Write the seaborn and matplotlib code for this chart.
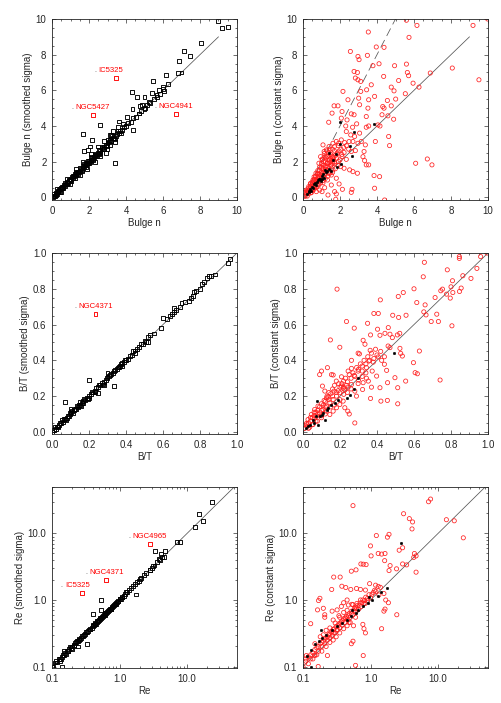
import numpy as np
import seaborn as sns
import matplotlib
matplotlib.use('Agg')
import matplotlib.pyplot as plt
from matplotlib.ticker import MultipleLocator, LogLocator, FixedFormatter, FixedLocator

# Bulge n: porownanie (x, y) -- smoothed sigma
bulge_smooth = [
    (0.05, 0.0), (0.1, 0.1), (0.15, 0.1), (0.2, 0.25), (0.25, 0.2), (0.3, 0.3), (0.35, 0.4), (0.4, 0.35),
    (0.45, 0.45), (0.5, 0.55), (0.55, 0.5), (0.6, 0.6), (0.65, 0.7), (0.7, 0.65), (0.75, 0.75), (0.8, 0.85),
    (0.85, 0.8), (0.9, 0.9), (0.95, 1.0), (1.0, 0.95), (1.05, 1.05), (1.1, 1.15), (1.15, 1.1), (1.2, 1.2),
    (1.25, 1.3), (1.3, 1.25), (1.35, 1.35), (1.4, 1.45), (1.45, 1.4), (1.5, 1.5), (1.55, 1.6), (1.6, 1.55),
    (1.65, 1.65), (1.7, 1.75), (1.75, 1.7), (1.8, 1.8), (1.85, 1.9), (1.9, 1.85), (1.95, 1.95), (2.0, 2.05),
    (2.05, 2.0), (2.1, 2.1), (2.15, 2.2), (2.2, 2.15), (2.25, 2.25), (2.3, 2.35), (2.35, 2.3), (2.4, 2.4),
    (2.5, 2.5), (2.55, 2.45), (2.6, 2.6), (2.7, 2.75), (2.75, 2.7), (2.8, 2.8), (2.9, 2.95), (2.95, 2.9),
    (3.0, 3.05), (3.1, 3.1), (3.15, 3.2), (3.2, 3.15), (3.3, 3.35), (3.35, 3.3), (3.45, 3.45), (3.5, 3.55),
    (3.6, 3.6), (3.7, 3.7), (3.8, 3.75), (3.9, 3.95), (4.0, 4.0), (4.1, 4.15), (4.25, 4.2), (4.4, 4.45),
    (4.55, 4.5), (4.7, 4.7), (4.8, 4.85), (5.0, 4.95), (5.15, 5.2), (5.3, 5.3), (5.5, 5.5), (5.65, 5.75),
    (5.85, 5.8), (6.0, 6.05),
    (0.12, 0.18), (0.22, 0.15), (0.32, 0.38), (0.42, 0.32), (0.52, 0.6), (0.62, 0.52), (0.72, 0.8),
    (0.82, 0.72), (0.92, 1.0), (1.02, 0.9), (1.12, 1.22), (1.22, 1.1), (1.32, 1.42), (1.42, 1.3),
    (1.52, 1.62), (1.62, 1.5), (1.72, 1.85), (1.82, 1.7), (1.92, 2.05), (2.02, 1.9), (2.12, 2.25),
    (2.22, 2.1), (2.32, 2.45), (2.42, 2.3), (2.52, 2.65), (2.62, 2.5), (2.72, 2.85), (2.82, 2.7),
    (3.02, 3.2), (3.12, 2.95), (3.25, 3.45), (3.4, 3.25), (3.55, 3.7), (3.75, 3.6),
    (0.25, 0.45), (0.5, 0.3), (0.8, 1.05), (1.0, 0.75), (1.3, 1.6), (1.5, 1.25), (1.7, 2.0), (1.9, 1.6),
    (2.1, 2.45), (2.3, 2.0), (2.5, 2.85), (2.6, 2.3), (2.8, 3.15), (3.0, 2.7), (3.2, 3.5), (3.4, 3.1),
    (8.95, 9.9), (9.2, 9.5), (9.5, 9.55), (8.05, 8.65), (7.15, 8.2), (7.45, 7.95), (6.85, 7.65), (6.8, 6.95),
    (7.0, 7.0), (6.15, 6.85), (6.25, 6.35), (5.45, 6.5), (4.3, 5.9), (4.6, 5.6), (5.0, 5.6), (5.4, 5.85),
    (5.8, 6.0), (6.0, 6.2), (6.05, 5.95), (5.7, 5.65), (5.25, 5.35), (4.85, 5.2), (4.35, 4.95), (4.05, 4.5),
    (2.6, 4.05), (1.7, 3.55), (3.55, 3.95), (4.4, 3.75), (3.4, 1.95), (2.9, 2.5), (2.05, 2.85), (2.15, 3.2),
    (1.95, 2.65), (1.75, 2.6), (3.15, 3.5), (3.3, 3.7), (3.6, 4.25), (3.85, 4.1), (4.7, 4.7), (5.05, 5.0),
    (4.75, 5.1),
]
bulge_smooth_odd = [(3.45, 6.7), (2.2, 4.6), (6.7, 4.65)]
bulge_smooth_names = ['IC5325', 'NGC5427', 'NGC4941']

# Bulge n -- constant sigma
bulge_const = [
    (5.59, 9.93), (6.16, 9.64), (9.19, 9.64), (5.73, 8.97), (3.53, 9.27), (3.96, 8.43), (4.38, 8.41),
    (2.56, 8.18), (3.48, 7.96), (2.97, 7.9), (3.03, 7.72), (4.11, 7.49), (5.59, 7.47), (3.78, 7.38),
    (4.95, 7.38), (8.07, 7.25), (2.76, 7.06), (2.94, 7.0), (6.88, 6.97), (5.64, 7.0), (5.71, 6.82),
    (4.36, 6.78), (2.83, 6.69), (2.97, 6.59), (3.12, 6.5), (5.17, 6.55), (5.95, 6.4), (9.51, 6.59),
    (3.69, 6.31), (4.77, 6.18), (6.27, 6.18), (2.16, 5.94), (3.12, 5.94), (4.92, 5.97), (3.44, 6.03),
    (5.53, 5.81), (2.43, 5.47), (3.01, 5.56), (3.87, 5.66), (4.56, 5.43), (5.01, 5.51), (1.68, 5.13),
    (1.89, 5.13), (3.55, 5.47), (3.06, 5.19), (3.51, 5.0), (4.31, 5.09), (4.38, 5.0), (4.77, 5.13),
    (2.11, 4.81), (1.57, 4.72), (2.61, 4.68), (2.76, 4.63), (3.42, 4.53), (4.27, 4.63), (4.59, 4.57),
    (4.9, 4.38), (1.39, 4.21), (2.07, 4.44), (2.38, 4.34), (2.31, 4.0), (2.68, 3.93), (2.9, 4.12),
    (3.42, 3.93), (3.55, 4.0), (4.05, 4.06), (4.16, 4.0), (4.63, 3.41), (3.91, 3.13), (4.68, 2.9),
    (3.37, 2.94), (3.3, 2.57), (3.24, 2.28), (3.33, 2.06), (3.42, 1.82), (3.55, 1.82), (6.09, 1.91),
    (6.72, 2.15), (6.97, 1.82), (3.84, 1.22), (4.14, 1.16), (3.87, 0.51), (4.41, -0.15), (2.13, 0.45),
    (1.95, 0.75), (2.61, 0.28), (2.65, 0.45), (1.71, 0.32), (1.8, 0.19), (1.77, -0.11), (1.35, 0.13),
    (1.03, 0.32), (0.23, 0.07), (0.09, 0.28), (0.63, 0.6), (0.9, 0.41), (1.17, 0.54), (9.98, 10.0),
    (1.08, 2.94), (1.14, 2.57), (1.26, 2.66), (1.41, 2.85), (1.35, 2.28), (1.03, 2.1), (0.86, 1.91),
    (0.95, 2.28), (1.62, 3.03), (1.8, 3.13), (1.93, 3.03), (2.07, 3.22), (2.25, 3.07), (2.49, 3.13),
    (2.7, 3.13), (2.97, 3.03), (3.15, 3.13), (2.34, 3.69), (2.58, 3.5), (2.79, 3.41), (3.06, 3.6),
    (2.47, 2.7), (2.61, 2.57), (2.83, 2.62), (2.22, 2.51), (1.86, 2.43), (2.11, 2.28), (2.34, 2.13),
    (1.93, 2.0), (1.71, 1.91), (1.53, 1.82), (1.32, 1.91), (1.44, 2.1), (1.62, 2.25), (2.04, 1.72),
    (2.22, 1.63), (2.52, 1.54), (2.7, 1.44), (2.94, 1.35), (1.62, 1.54), (1.39, 1.35), (1.21, 1.54),
    (1.03, 1.63), (0.81, 1.35), (0.67, 1.16), (0.54, 0.97), (0.41, 0.79), (0.31, 0.6), (0.18, 0.41),
    (1.53, 1.25), (1.8, 1.07), (1.32, 0.97), (1.08, 0.82), (0.81, 0.73), (1.53, 0.69), (0.45, 0.26),
    (0.72, 0.32),
    (0.4, 0.6), (0.5, 0.7), (0.6, 0.9), (0.7, 1.0), (0.8, 1.1), (0.9, 1.3), (1.0, 1.4), (1.1, 1.6),
    (1.2, 1.7), (1.3, 1.9), (1.4, 2.1), (1.5, 2.2), (1.6, 2.3), (0.5, 0.5), (0.6, 0.6), (0.7, 0.8),
    (0.8, 0.9), (0.9, 1.0), (1.0, 1.1), (1.1, 1.2), (1.2, 1.3), (1.3, 1.5), (1.4, 1.6), (1.5, 1.8),
    (1.6, 1.9), (1.7, 2.0), (1.8, 2.2), (1.2, 2.0), (1.3, 2.3), (1.1, 1.8), (1.0, 1.7), (0.9, 1.5),
    (0.8, 1.3), (0.7, 1.2), (0.6, 1.0), (0.3, 0.3), (0.35, 0.45), (0.45, 0.4), (0.55, 0.75), (0.65, 0.55),
    (0.2, 0.25), (0.25, 0.35), (0.15, 0.15), (0.1, 0.05), (1.45, 1.95), (1.55, 2.05), (1.65, 2.15),
    (1.75, 2.35), (1.25, 1.75), (1.35, 1.75), (1.15, 1.45), (1.05, 1.35), (0.95, 1.25), (0.85, 1.15),
    (0.75, 0.95), (0.65, 0.85), (0.55, 0.65), (1.85, 2.5), (1.95, 2.6), (2.05, 2.7), (1.7, 2.6),
    (1.5, 2.4), (1.4, 2.5), (1.25, 2.2),
    (0.2, 0.35), (0.3, 0.5), (0.4, 0.75), (0.5, 0.85), (0.6, 1.15), (0.7, 1.35), (0.8, 1.5), (0.9, 1.7),
    (1.0, 1.9), (1.1, 2.0), (1.2, 2.3), (1.3, 2.6), (1.45, 2.7), (1.6, 2.7), (1.7, 2.85), (1.9, 2.9),
    (0.3, 0.2), (0.4, 0.25), (0.5, 0.4), (0.6, 0.45), (0.75, 0.6), (0.85, 0.7), (0.95, 0.8), (1.1, 0.95),
    (1.2, 1.05), (1.35, 1.2), (1.45, 1.35), (1.6, 1.4), (1.75, 1.6), (1.9, 1.8), (2.0, 2.1), (2.1, 2.4),
    (2.2, 2.8), (2.35, 2.9), (1.15, 2.45), (1.05, 2.15),
]
bulge_const_same = [
    (1.98, 4.21), (3.82, 4.12), (2.76, 3.69), (1.98, 3.0), (1.39, 2.51), (1.8, 2.43), (2.56, 2.9),
    (2.65, 2.34), (1.62, 2.1), (2.04, 1.85), (1.86, 1.72), (0.3, 0.35), (0.4, 0.45), (0.5, 0.6),
    (0.55, 0.5), (0.6, 0.75), (0.7, 0.7), (0.75, 0.85), (0.8, 0.95), (0.9, 1.05), (0.95, 0.9), (1.0, 1.2),
    (1.1, 1.3), (1.15, 1.1), (1.25, 1.4), (1.3, 1.5), (1.4, 1.6), (1.5, 1.45), (0.45, 0.35), (0.65, 0.8),
    (0.85, 1.0), (0.35, 0.3), (0.2, 0.2), (1.2, 1.55), (1.05, 1.0),
]

# B/T -- smoothed sigma
bt_smooth = [
    (0.0, 0.0), (0.01, 0.01), (0.02, 0.015), (0.025, 0.03), (0.03, 0.03), (0.04, 0.04), (0.045, 0.05),
    (0.05, 0.05), (0.06, 0.055), (0.065, 0.07), (0.07, 0.07), (0.08, 0.08), (0.085, 0.09), (0.09, 0.09),
    (0.1, 0.1), (0.105, 0.11), (0.11, 0.115), (0.12, 0.12), (0.125, 0.13), (0.13, 0.13), (0.14, 0.14),
    (0.145, 0.15), (0.15, 0.15), (0.16, 0.16), (0.165, 0.17), (0.17, 0.175), (0.18, 0.18), (0.19, 0.19),
    (0.2, 0.2), (0.21, 0.21), (0.22, 0.22), (0.23, 0.23), (0.24, 0.245), (0.25, 0.25), (0.26, 0.26),
    (0.27, 0.275), (0.28, 0.28), (0.29, 0.29), (0.3, 0.305), (0.31, 0.31), (0.32, 0.325), (0.33, 0.33),
    (0.34, 0.345), (0.35, 0.35), (0.36, 0.365), (0.37, 0.37), (0.38, 0.385), (0.39, 0.39), (0.4, 0.4),
    (0.42, 0.425), (0.43, 0.43), (0.44, 0.45), (0.45, 0.455), (0.47, 0.475), (0.48, 0.49), (0.49, 0.49),
    (0.5, 0.51), (0.51, 0.5), (0.52, 0.53), (0.53, 0.54), (0.55, 0.55), (0.59, 0.58), (0.6, 0.635),
    (0.62, 0.63), (0.64, 0.65), (0.65, 0.66), (0.66, 0.67), (0.66, 0.69), (0.67, 0.68), (0.69, 0.7),
    (0.7, 0.72), (0.72, 0.725), (0.74, 0.73), (0.75, 0.75), (0.76, 0.76), (0.77, 0.78), (0.78, 0.79),
    (0.8, 0.8), (0.81, 0.825), (0.82, 0.84), (0.84, 0.86), (0.85, 0.87), (0.86, 0.87), (0.88, 0.88),
    (0.95, 0.945), (0.96, 0.965),
    (0.015, 0.025), (0.035, 0.025), (0.055, 0.065), (0.075, 0.065), (0.095, 0.105), (0.115, 0.105),
    (0.135, 0.145), (0.155, 0.145), (0.175, 0.185), (0.195, 0.185), (0.215, 0.225), (0.235, 0.225),
    (0.255, 0.265), (0.275, 0.265), (0.295, 0.3), (0.315, 0.32), (0.335, 0.34), (0.355, 0.36),
    (0.375, 0.38), (0.395, 0.4), (0.41, 0.41), (0.46, 0.465),
    (0.07, 0.165), (0.2, 0.29), (0.335, 0.255), (0.2, 0.19), (0.25, 0.215), (0.1, 0.13), (0.15, 0.17),
    (0.17, 0.16), (0.3, 0.33), (0.38, 0.37), (0.45, 0.44), (0.52, 0.5), (0.28, 0.26),
]
bt_smooth_odd = [(0.235, 0.66)]
bt_smooth_names = ['NGC4371']

# B/T -- constant sigma
bt_const = [
    (0.995, 1.0), (0.845, 0.98), (0.845, 0.97), (0.96, 0.98), (0.656, 0.948), (0.184, 0.798), (0.78, 0.906),
    (0.94, 0.914), (0.65, 0.867), (0.864, 0.873), (0.908, 0.858), (0.808, 0.845), (0.754, 0.798),
    (0.8, 0.811), (0.6, 0.8), (0.855, 0.804), (0.418, 0.738), (0.542, 0.779), (0.515, 0.757),
    (0.714, 0.751), (0.745, 0.789), (0.776, 0.77), (0.81, 0.779), (0.615, 0.723), (0.66, 0.71),
    (0.796, 0.748), (0.846, 0.785), (0.653, 0.671), (0.665, 0.654), (0.557, 0.652), (0.517, 0.64),
    (0.485, 0.652), (0.383, 0.662), (0.407, 0.662), (0.693, 0.617), (0.732, 0.617), (0.723, 0.658),
    (0.805, 0.593), (0.235, 0.617), (0.277, 0.58), (0.349, 0.607), (0.403, 0.574), (0.461, 0.583),
    (0.443, 0.551), (0.47, 0.546), (0.51, 0.542), (0.523, 0.551), (0.483, 0.527), (0.416, 0.54),
    (0.365, 0.542), (0.325, 0.512), (0.335, 0.49), (0.148, 0.514), (0.199, 0.473), (0.298, 0.44),
    (0.305, 0.436), (0.262, 0.4), (0.363, 0.456), (0.392, 0.462), (0.47, 0.471), (0.524, 0.467),
    (0.528, 0.439), (0.537, 0.424), (0.597, 0.387), (0.629, 0.452), (0.618, 0.325), (0.741, 0.29),
    (0.512, 0.247), (0.512, 0.157), (0.456, 0.176), (0.421, 0.172), (0.365, 0.187), (0.322, 0.237),
    (0.28, 0.228), (0.28, 0.05), (0.242, 0.116), (0.25, 0.1), (0.226, 0.135), (0.09, 0.32), (0.1, 0.34),
    (0.132, 0.359), (0.154, 0.32), (0.163, 0.318), (0.127, 0.19), (0.105, 0.256), (0.118, 0.228),
    (0.208, 0.308), (0.219, 0.284), (0.244, 0.34), (0.262, 0.355), (0.277, 0.316), (0.298, 0.34),
    (0.32, 0.368), (0.343, 0.359), (0.356, 0.396), (0.383, 0.41), (0.407, 0.419), (0.425, 0.4),
    (0.44, 0.378), (0.452, 0.344), (0.398, 0.312), (0.374, 0.34), (0.343, 0.3), (0.325, 0.275),
    (0.298, 0.27), (0.262, 0.265), (0.244, 0.25), (0.226, 0.234), (0.208, 0.256), (0.193, 0.269),
    (0.18, 0.284), (0.168, 0.228), (0.15, 0.213), (0.136, 0.194), (0.114, 0.176), (0.099, 0.157),
    (0.081, 0.144), (0.063, 0.125), (0.045, 0.097), (0.027, 0.069), (0.018, 0.047), (0.072, 0.088),
    (0.09, 0.107), (0.108, 0.125), (0.127, 0.144), (0.145, 0.163), (0.163, 0.181), (0.181, 0.2),
    (0.199, 0.219), (0.217, 0.243), (0.235, 0.26), (0.127, 0.116), (0.145, 0.097), (0.163, 0.116),
    (0.181, 0.135), (0.199, 0.153), (0.217, 0.172), (0.1, 0.079), (0.078, 0.06), (0.054, 0.041),
    (0.036, 0.026), (0.06, 0.073), (0.289, 0.2), (0.37, 0.25), (0.416, 0.247), (0.457, 0.275),
    (0.497, 0.303), (0.555, 0.284), (0.606, 0.331), (0.353, 0.284),
    (0.01, 0.02), (0.02, 0.03), (0.03, 0.05), (0.04, 0.06), (0.05, 0.08), (0.06, 0.09), (0.07, 0.11),
    (0.08, 0.12), (0.09, 0.14), (0.11, 0.15), (0.12, 0.17), (0.13, 0.2), (0.14, 0.22), (0.16, 0.24),
    (0.17, 0.26), (0.19, 0.23), (0.21, 0.27), (0.23, 0.3), (0.25, 0.32), (0.27, 0.33), (0.29, 0.36),
    (0.31, 0.38), (0.33, 0.4), (0.35, 0.42), (0.37, 0.44), (0.03, 0.02), (0.05, 0.04), (0.07, 0.06),
    (0.1, 0.09), (0.12, 0.1), (0.15, 0.14), (0.17, 0.15), (0.2, 0.18), (0.22, 0.21), (0.24, 0.22),
    (0.26, 0.24), (0.3, 0.29), (0.32, 0.31), (0.34, 0.33),
    (0.02, 0.04), (0.04, 0.08), (0.06, 0.11), (0.08, 0.1), (0.1, 0.12), (0.12, 0.14), (0.14, 0.18),
    (0.16, 0.2), (0.18, 0.22), (0.2, 0.25), (0.22, 0.25), (0.24, 0.28), (0.26, 0.3), (0.28, 0.31),
    (0.3, 0.35), (0.32, 0.34), (0.34, 0.38), (0.36, 0.4), (0.38, 0.39), (0.4, 0.43), (0.42, 0.45),
    (0.44, 0.42), (0.46, 0.48),
]
bt_const_same = [
    (0.076, 0.174), (0.494, 0.443), (0.298, 0.299), (0.275, 0.237), (0.253, 0.206), (0.239, 0.19),
    (0.154, 0.153), (0.127, 0.121), (0.09, 0.088), (0.069, 0.088), (0.081, 0.041), (0.054, 0.065),
    (0.036, 0.041), (0.018, 0.022), (0.108, 0.107), (0.136, 0.135), (0.172, 0.163), (0.19, 0.181),
    (0.027, 0.032), (0.06, 0.05), (0.1, 0.097), (0.118, 0.069),
]

# Re -- smoothed sigma
re_smooth = [
    (0.1, 0.1), (0.105, 0.1), (0.11, 0.115), (0.12, 0.115), (0.125, 0.13), (0.13, 0.13), (0.14, 0.14),
    (0.145, 0.15), (0.15, 0.15), (0.16, 0.155), (0.165, 0.17), (0.17, 0.17), (0.18, 0.185), (0.19, 0.19),
    (0.2, 0.2), (0.21, 0.205), (0.22, 0.225), (0.23, 0.23), (0.24, 0.24), (0.25, 0.26), (0.26, 0.255),
    (0.27, 0.27), (0.28, 0.29), (0.3, 0.3), (0.31, 0.31), (0.32, 0.33), (0.34, 0.34), (0.35, 0.36),
    (0.37, 0.37), (0.39, 0.38), (0.4, 0.41), (0.42, 0.42), (0.44, 0.45), (0.46, 0.46), (0.48, 0.49),
    (0.5, 0.5), (0.52, 0.53), (0.55, 0.55), (0.57, 0.58), (0.6, 0.6), (0.63, 0.64), (0.66, 0.66),
    (0.7, 0.7), (0.73, 0.74), (0.76, 0.76), (0.8, 0.81), (0.84, 0.84), (0.88, 0.9), (0.92, 0.93),
    (0.96, 0.96), (1.0, 1.02), (1.05, 1.05), (1.1, 1.12), (1.15, 1.15), (1.2, 1.22), (1.3, 1.3),
    (1.4, 1.42), (1.5, 1.5), (1.6, 1.62), (1.7, 1.72), (1.8, 1.85), (1.95, 1.9), (2.1, 2.15), (2.3, 2.35),
    (2.5, 2.55), (2.8, 2.85), (3.0, 3.05), (3.3, 3.3), (3.6, 3.7), (4.0, 4.0), (4.3, 4.4),
    (0.115, 0.12), (0.135, 0.13), (0.155, 0.16), (0.175, 0.17), (0.195, 0.2), (0.215, 0.21),
    (0.235, 0.24), (0.255, 0.25), (0.29, 0.29), (0.33, 0.33), (0.36, 0.36), (0.41, 0.42), (0.43, 0.43),
    (0.47, 0.48), (0.51, 0.51), (0.54, 0.54), (0.58, 0.59), (0.62, 0.62), (0.68, 0.69), (0.74, 0.74),
    (0.78, 0.79), (0.86, 0.86), (0.94, 0.95), (1.03, 1.03), (1.08, 1.09),
    (23.7, 29.4), (15.0, 19.6), (17.2, 15.5), (13.3, 12.5), (7.2, 7.5), (7.9, 7.5), (3.35, 5.5),
    (4.1, 4.9), (4.7, 5.4), (4.6, 4.4), (3.85, 4.1), (2.8, 2.85), (3.1, 3.2), (0.53, 1.0), (0.4, 0.62),
    (0.54, 0.71), (0.335, 0.22), (1.74, 1.21), (0.14, 0.1), (0.184, 0.2), (0.24, 0.2), (0.15, 0.17),
    (0.2, 0.18), (0.13, 0.12), (0.6, 0.64), (0.9, 0.87), (1.25, 1.3), (0.45, 0.43), (0.75, 0.73),
    (2.0, 2.05),
]
re_smooth_odd = [(2.8, 7.0), (0.64, 2.02), (0.28, 1.28)]
re_smooth_names = ['NGC4965', 'NGC4371', 'IC5325']

# Re -- constant sigma
re_const = [
    (7.76, 32.9), (7.24, 30.0), (0.55, 26.2), (3.09, 19.8), (3.76, 16.7), (4.2, 14.9), (4.12, 11.7),
    (13.3, 16.1), (17.4, 15.5), (23.7, 8.6), (2.99, 6.1), (1.88, 9.7), (1.78, 8.8), (1.22, 9.3),
    (1.0, 6.5), (2.66, 5.6), (1.3, 5.0), (1.46, 4.9), (1.64, 5.0), (1.62, 3.9), (4.47, 5.0), (4.73, 4.6),
    (4.37, 4.37), (4.73, 2.62), (2.43, 2.94), (1.95, 3.29), (1.88, 2.77), (2.99, 3.48), (3.43, 3.37),
    (0.72, 3.48), (0.78, 3.45), (0.86, 3.4), (0.61, 2.84), (0.52, 2.71), (0.285, 2.21), (0.355, 2.21),
    (1.02, 4.6), (0.266, 1.44), (0.376, 1.61), (0.43, 1.54), (0.51, 1.44), (0.62, 1.49), (0.71, 1.44),
    (0.84, 1.41), (0.97, 1.76), (1.19, 1.67), (1.33, 1.19), (1.58, 1.25), (1.68, 1.0), (1.84, 0.91),
    (1.64, 0.73), (1.58, 0.68), (2.45, 0.6), (1.46, 0.37), (0.8, 0.37), (0.84, 0.32), (0.77, 0.43),
    (0.56, 0.41), (0.55, 0.24), (0.52, 0.22), (0.78, 0.146), (0.6, 0.104), (0.178, 1.06), (0.17, 0.98),
    (0.164, 0.71), (0.13, 0.44), (0.112, 0.146), (0.15, 0.146), (0.23, 0.146), (0.168, 0.1),
    (0.2, 0.75), (0.21, 0.6), (0.21, 0.55), (0.27, 0.68), (0.32, 0.71), (0.34, 0.58), (0.37, 0.8),
    (0.4, 0.91), (0.45, 1.0), (0.47, 0.84), (0.53, 0.86), (0.6, 0.78), (0.63, 0.89), (0.71, 1.0),
    (0.84, 0.89), (0.42, 0.54), (0.48, 0.46), (0.32, 0.36), (0.28, 0.32),
    (0.1, 0.1), (0.11, 0.12), (0.12, 0.14), (0.13, 0.13), (0.14, 0.16), (0.15, 0.15), (0.16, 0.19),
    (0.17, 0.17), (0.18, 0.22), (0.19, 0.2), (0.2, 0.24), (0.21, 0.22), (0.22, 0.27), (0.23, 0.25),
    (0.24, 0.3), (0.25, 0.27), (0.26, 0.33), (0.27, 0.29), (0.28, 0.36), (0.3, 0.32), (0.31, 0.4),
    (0.32, 0.35), (0.34, 0.44), (0.35, 0.38), (0.37, 0.47), (0.38, 0.42), (0.4, 0.52), (0.42, 0.46),
    (0.44, 0.57), (0.46, 0.5), (0.48, 0.62), (0.5, 0.55), (0.53, 0.68), (0.55, 0.6), (0.58, 0.75),
    (0.6, 0.66), (0.63, 0.82), (0.66, 0.72), (0.7, 0.9), (0.73, 0.8), (0.77, 1.0), (0.8, 0.88),
    (0.85, 1.1), (0.9, 0.97), (0.95, 1.2), (1.0, 1.08), (1.1, 1.3), (1.2, 1.35), (1.3, 1.6), (1.4, 1.55),
    (0.12, 0.11), (0.14, 0.13), (0.16, 0.15), (0.19, 0.17), (0.22, 0.2), (0.25, 0.23), (0.28, 0.25),
    (0.31, 0.28), (0.35, 0.32), (0.4, 0.37), (0.45, 0.41), (0.5, 0.46), (0.6, 0.55), (0.2, 0.3),
    (0.25, 0.38), (0.3, 0.45), (0.35, 0.55), (0.28, 0.5), (0.22, 0.35), (0.18, 0.28), (0.15, 0.22),
    (0.45, 0.7), (0.55, 0.85), (0.4, 0.65),
    (0.11, 0.13), (0.13, 0.15), (0.15, 0.18), (0.17, 0.2), (0.19, 0.23), (0.21, 0.26), (0.23, 0.28),
    (0.25, 0.31), (0.27, 0.34), (0.29, 0.37), (0.33, 0.41), (0.36, 0.45), (0.39, 0.49), (0.43, 0.53),
    (0.47, 0.58), (0.52, 0.63), (0.57, 0.69), (0.62, 0.75), (0.68, 0.83), (0.75, 0.92), (0.82, 0.98),
    (0.9, 1.05), (1.05, 1.22), (1.15, 1.4),
]
re_const_same = [
    (2.82, 7.1), (1.45, 1.33), (1.27, 1.15), (1.06, 1.0), (0.92, 0.89), (0.77, 0.81), (0.65, 0.71),
    (0.6, 0.64), (0.52, 0.57), (0.45, 0.5), (0.38, 0.45), (0.32, 0.4), (0.27, 0.36), (0.22, 0.3),
    (0.19, 0.27), (0.17, 0.24), (0.15, 0.22), (0.13, 0.18), (0.115, 0.146), (0.184, 0.35), (0.13, 0.1),
    (0.53, 0.71), (0.95, 1.12), (1.78, 1.49),
]

# ustawienia wygladu
sns.set_style('ticks')
plt.rcParams['font.family'] = ['Liberation Sans', 'DejaVu Sans']
plt.rcParams['font.size'] = 7
plt.rcParams['axes.linewidth'] = 0.6
plt.rcParams['axes.edgecolor'] = '#222222'

fig = plt.figure(figsize=(5.02, 7.03), dpi=100)
col_left = [0.1036, 0.6036]
row_bottom = [0.7155, 0.3826, 0.0498]
ax_w, ax_h = 0.3685, 0.2575
axes = [[fig.add_axes([col_left[c], row_bottom[r], ax_w, ax_h]) for c in range(2)] for r in range(3)]


def split(pairs):
    return np.array([p[0] for p in pairs]), np.array([p[1] for p in pairs])


def squares(ax, pairs, color):
    x, y = split(pairs)
    sns.scatterplot(x=x, y=y, marker='s', s=8, edgecolor=color, linewidth=0.65, ax=ax, legend=False)
    ax.collections[-1].set_facecolor('none')


def circles(ax, pairs, same):
    x, y = split(pairs)
    sns.scatterplot(x=x, y=y, marker='o', s=9, edgecolor='#ff2020', linewidth=0.55, ax=ax, legend=False)
    ax.collections[-1].set_facecolor('none')
    x, y = split(same)
    sns.scatterplot(x=x, y=y, marker='o', s=3.5, color='black', edgecolor='black', linewidth=0.3, ax=ax,
                    legend=False)


def names(ax, pairs, labels):
    for (x, y), lab in zip(pairs, labels):
        ax.annotate(lab, (x, y), xytext=(-12.5, 5.5), textcoords='offset points', color='#ff0000',
                    fontsize=5.6, ha='left', va='center')
        ax.annotate('.', (x, y), xytext=(-15.5, 5.5), textcoords='offset points', color='#555555',
                    fontsize=5, ha='left', va='center')


def style(ax, lims, major, minor, fmt, xlabel, ylabel, log=False):
    ax.set_xlim(lims[0])
    ax.set_ylim(lims[1])
    if log:
        ax.set_xscale('log')
        ax.set_yscale('log')
        for a in (ax.xaxis, ax.yaxis):
            a.set_major_locator(FixedLocator(major))
            a.set_major_formatter(FixedFormatter(fmt))
            a.set_minor_locator(LogLocator(base=10, subs=np.arange(2, 10)))
            a.set_minor_formatter(FixedFormatter([]))
    else:
        for a in (ax.xaxis, ax.yaxis):
            a.set_major_locator(FixedLocator(major))
            a.set_major_formatter(FixedFormatter(fmt))
            a.set_minor_locator(MultipleLocator(minor))
    ax.tick_params(which='both', direction='in', top=True, right=True, width=0.5, labelsize=7, pad=4,
                   color='#333333')
    ax.tick_params(which='major', length=3.2)
    ax.tick_params(which='minor', length=1.7)
    ax.set_xlabel(xlabel, fontsize=7, labelpad=1.5)
    ax.set_ylabel(ylabel, fontsize=7, labelpad=2)


line_kw = dict(color='#555555', lw=0.55, zorder=1)

# wiersz 1: Bulge n
n_ticks = [0, 2, 4, 6, 8, 10]
n_fmt = ['0', '2', '4', '6', '8', '10']
ax = axes[0][0]
ax.plot([0, 9], [0, 9], **line_kw)
squares(ax, bulge_smooth, 'black')
squares(ax, bulge_smooth_odd, '#ff0000')
names(ax, bulge_smooth_odd, bulge_smooth_names)
style(ax, [(0, 10), (-0.15, 10)], n_ticks, 0.5, n_fmt, 'Bulge n', 'Bulge n (smoothed sigma)')

ax = axes[0][1]
ax.plot([0, 9], [0, 9], **line_kw)
ax.plot([0, 5], [0, 10], color='#555555', lw=0.55, ls=(0, (11, 6)), zorder=1)
circles(ax, bulge_const, bulge_const_same)
style(ax, [(0, 10), (-0.15, 10)], n_ticks, 0.5, n_fmt, 'Bulge n', 'Bulge n (constant sigma)')

# wiersz 2: B/T
bt_ticks = [0, 0.2, 0.4, 0.6, 0.8, 1.0]
bt_fmt = ['0.0', '0.2', '0.4', '0.6', '0.8', '1.0']
ax = axes[1][0]
ax.plot([0, 1], [0, 1], **line_kw)
squares(ax, bt_smooth, 'black')
squares(ax, bt_smooth_odd, '#ff0000')
names(ax, bt_smooth_odd, bt_smooth_names)
style(ax, [(0, 1), (-0.012, 1)], bt_ticks, 0.05, bt_fmt, 'B/T', 'B/T (smoothed sigma)')

ax = axes[1][1]
ax.plot([0, 1], [0, 1], **line_kw)
circles(ax, bt_const, bt_const_same)
style(ax, [(0, 1), (-0.012, 1)], bt_ticks, 0.05, bt_fmt, 'B/T', 'B/T (constant sigma)')

# wiersz 3: Re (log)
re_ticks = [0.1, 1.0, 10.0]
re_fmt = ['0.1', '1.0', '10.0']
ax = axes[2][0]
ax.plot([0.1, 50], [0.1, 50], **line_kw)
squares(ax, re_smooth, 'black')
squares(ax, re_smooth_odd, '#ff0000')
names(ax, re_smooth_odd, re_smooth_names)
style(ax, [(0.1, 55), (0.095, 50)], re_ticks, None, re_fmt, 'Re', 'Re (smoothed sigma)', log=True)

ax = axes[2][1]
ax.plot([0.1, 50], [0.1, 50], **line_kw)
circles(ax, re_const, re_const_same)
style(ax, [(0.1, 55), (0.095, 50)], re_ticks, None, re_fmt, 'Re', 'Re (constant sigma)', log=True)

plt.savefig('out.png', dpi=100)
